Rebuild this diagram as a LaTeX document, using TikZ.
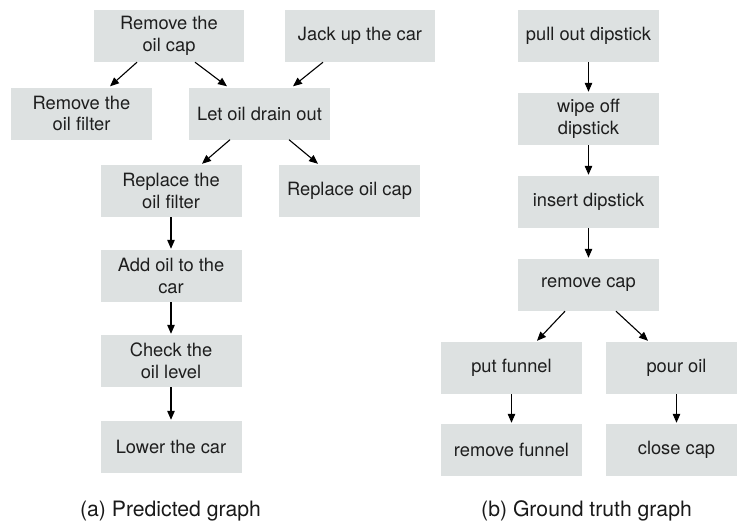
\documentclass[tikz,border=0pt]{standalone}
\usepackage{fontspec}
\setmainfont{TeX Gyre Heros}
\usetikzlibrary{arrows.meta}
\definecolor{boxfill}{HTML}{DDE1E1}
\definecolor{boxtext}{HTML}{1E1E1E}
\tikzset{
  stepbox/.style={rectangle, fill=boxfill, text=boxtext, align=center,
    minimum width=141pt, minimum height=52pt, inner sep=0pt,
    font=\fontsize{18.3}{21.5}\selectfont},
  widebox/.style={stepbox, minimum width=150pt},
  arr/.style={draw=black, line width=1.1pt, -{Triangle[length=9pt,width=7.5pt]}},
  caption/.style={anchor=base, font=\fontsize{21.2}{24}\selectfont, text=black!90}
}
\begin{document}
\begin{tikzpicture}[x=1pt, y=-1pt]
  \useasboundingbox (0,0) rectangle (737,522);

  % (a) predicted graph
  \node[widebox] (rcap)   at (169,36)    {Remove the\\oil cap};
  \node[widebox] (jack)   at (360,36)    {Jack up the car};
  \node[stepbox] (rfilt)  at (81.5,113.5) {Remove the\\oil filter};
  \node[stepbox] (drain)  at (259.5,113.5) {Let oil drain out};
  \node[stepbox] (repf)   at (171,191)   {Replace the\\oil filter};
  \node[stepbox] (repc)   at (349.5,191) {Replace oil cap};
  \node[stepbox] (addoil) at (171,276)   {Add oil to the\\car};
  \node[stepbox] (check)  at (171,361)   {Check the\\oil level};
  \node[stepbox] (lower)  at (171,447)   {Lower the car};

  \draw[arr] ([xshift=-32pt]rcap.south) -- ([xshift=28.5pt,yshift=1pt]rfilt.north);
  \draw[arr] ([xshift=26pt]rcap.south) -- ([xshift=-32.5pt,yshift=1pt]drain.north);
  \draw[arr] ([xshift=-37pt]jack.south) -- ([xshift=33.5pt,yshift=1pt]drain.north);
  \draw[arr] ([xshift=-29.5pt]drain.south) -- ([xshift=31pt,yshift=1pt]repf.north);
  \draw[arr] ([xshift=29.5pt]drain.south) -- ([xshift=-31.5pt,yshift=1pt]repc.north);
  \draw[arr] (repf.south) -- ([yshift=1pt]addoil.north);
  \draw[arr] (addoil.south) -- ([yshift=1pt]check.north);
  \draw[arr] (check.south) -- ([yshift=1pt]lower.north);

  \node[caption] (capa) at (170.5,516) {(a) Predicted graph};

  % (b) ground truth graph
  \node[stepbox] (pull)   at (588.5,36)  {pull out dipstick};
  \node[stepbox] (wipe)   at (588.5,119) {wipe off\\dipstick};
  \node[stepbox] (insert) at (588.5,202) {insert dipstick};
  \node[stepbox] (remcap) at (588.5,285) {remove cap};
  \node[stepbox] (putf)   at (511.5,368) {put funnel};
  \node[stepbox] (pour)   at (676.5,368) {pour oil};
  \node[stepbox] (remf)   at (511.5,450) {remove funnel};
  \node[stepbox] (close)  at (676.5,450) {close cap};

  \draw[arr] (pull.south) -- ([yshift=1pt]wipe.north);
  \draw[arr] (wipe.south) -- ([yshift=1pt]insert.north);
  \draw[arr] (insert.south) -- ([yshift=1pt]remcap.north);
  \draw[arr] ([xshift=-23.5pt]remcap.south) -- ([xshift=25.5pt,yshift=1pt]putf.north);
  \draw[arr] ([xshift=27.5pt]remcap.south) -- ([xshift=-28.5pt,yshift=1pt]pour.north);
  \draw[arr] (putf.south) -- ([yshift=1pt]remf.north);
  \draw[arr] (pour.south) -- ([yshift=1pt]close.north);

  \node[caption] (capb) at (586.5,516) {(b) Ground truth graph};
\end{tikzpicture}
\end{document}
